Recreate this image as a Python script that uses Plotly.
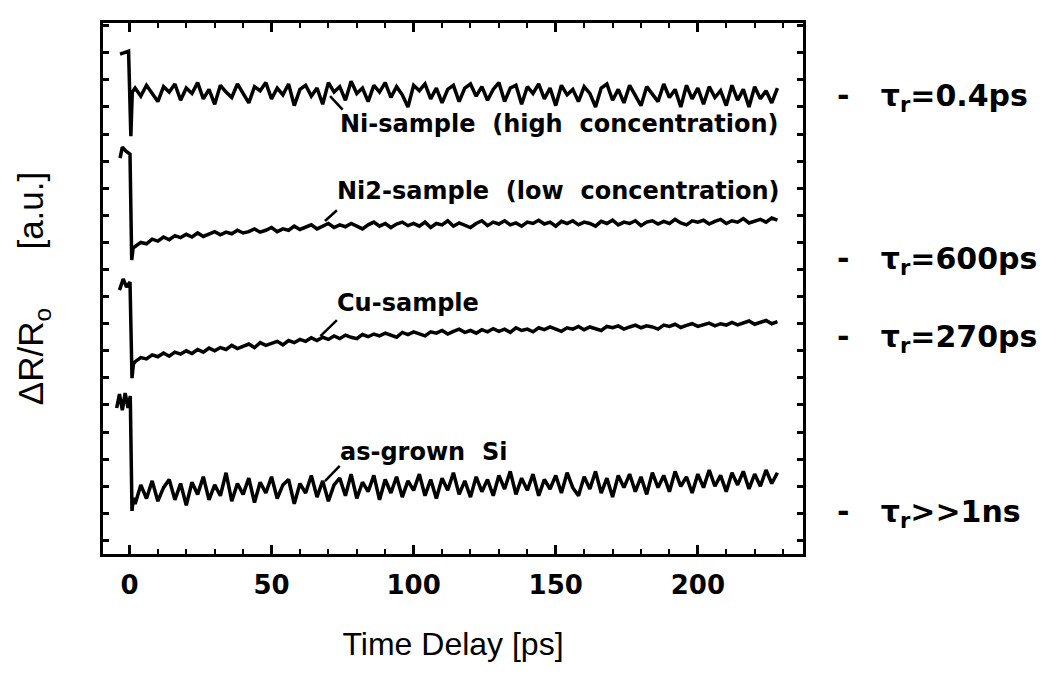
import plotly.graph_objects as go

# time axis, ps (sample grid after the drop at t=0)
time_ps = [2, 4, 6, 8, 10, 12, 14, 16, 18, 20, 22, 24, 26, 28, 30, 32, 34, 36, 38, 40,
           42, 44, 46, 48, 50, 52, 54, 56, 58, 60, 62, 64, 66, 68, 70, 72, 74, 76, 78, 80,
           82, 84, 86, 88, 90, 92, 94, 96, 98, 100, 102, 104, 106, 108, 110, 112, 114, 116, 118, 120,
           122, 124, 126, 128, 130, 132, 134, 136, 138, 140, 142, 144, 146, 148, 150, 152, 154, 156, 158, 160,
           162, 164, 166, 168, 170, 172, 174, 176, 178, 180, 182, 184, 186, 188, 190, 192, 194, 196, 198, 200,
           202, 204, 206, 208, 210, 212, 214, 216, 218, 220, 222, 224, 226, 228]

# spike region around t=0 for each sample
ni_pre_t = [-3.3, -0.3, 0.5, 1.0]
ni_pre = [18.45, 18.56, 15.42, 17.05]
ni2_pre_t = [-3.3, -2.5, -1.2, 0.2, 0.8, 1.3]
ni2_pre = [14.61, 15.02, 14.87, 14.76, 10.85, 11.29]
cu_pre_t = [-3.5, -2.2, -1.0, 0.2, 0.9, 1.4]
cu_pre = [9.74, 10.15, 9.85, 10.04, 6.49, 7.01]
si_pre_t = [-4.5, -3.5, -2.5, -1.5, -0.5, 0.3, 0.9, 1.4]
si_pre = [5.39, 5.90, 5.31, 5.94, 5.39, 5.83, 1.59, 2.07]

# Ni-sample (high concentration)
ni = [17.2, 16.9, 17.3, 17.0, 16.7, 17.25, 17.05, 17.35, 16.75, 17.2,
      17.0, 17.4, 16.8, 17.15, 16.6, 17.3, 17.05, 16.85, 17.35, 17.0,
      16.65, 17.25, 17.1, 17.4, 16.8, 17.2, 16.95, 17.35, 16.55, 17.15,
      17.3, 16.9, 17.2, 16.6, 17.4, 17.05, 17.25, 16.75, 17.45, 17.0,
      17.2, 16.7, 17.3, 17.05, 17.4, 16.85, 17.25, 16.95, 16.5, 17.3,
      17.1, 17.35, 16.8, 17.2, 16.65, 17.15, 17.3, 16.7, 17.2, 17.35,
      16.9, 17.25, 16.75, 17.15, 17.4, 16.7, 17.2, 17.3, 16.6, 17.25,
      17.0, 17.35, 16.8, 17.2, 16.55, 17.3, 16.95, 17.15, 16.7, 17.25,
      17.0, 16.5, 17.2, 17.35, 16.75, 17.15, 16.65, 17.3, 16.95, 16.55,
      17.25, 17.0, 16.7, 17.35, 16.85, 17.15, 16.5, 17.3, 16.8, 17.2,
      16.6, 17.25, 16.85, 17.1, 16.55, 17.3, 16.75, 17.15, 16.5, 17.25,
      16.8, 17.1, 16.65, 17.2]

# Ni2-sample (low concentration)
ni2 = [11.35, 11.5, 11.45, 11.62, 11.55, 11.7, 11.6, 11.75, 11.68, 11.8,
       11.7, 11.85, 11.72, 11.8, 11.9, 11.78, 11.88, 11.82, 11.95, 11.85,
       11.9, 12.0, 11.88, 11.95, 12.05, 11.9, 12.0, 11.95, 12.1, 11.98,
       12.05, 12.15, 12.0, 12.1, 12.2, 12.05, 12.15, 12.08, 12.2, 12.1,
       12.0, 12.15, 12.25, 12.1, 12.2, 12.05, 12.18, 12.25, 12.12, 12.2,
       12.1, 12.25, 12.05, 12.2, 12.15, 12.3, 12.1, 12.22, 12.15, 12.05,
       12.2, 12.3, 12.12, 12.25, 12.18, 12.3, 12.15, 12.22, 12.1, 12.25,
       12.2, 12.32, 12.18, 12.25, 12.1, 12.28, 12.2, 12.3, 12.15, 12.25,
       12.2, 12.1, 12.28, 12.2, 12.32, 12.15, 12.25, 12.2, 12.3, 12.12,
       12.25, 12.3, 12.18, 12.28, 12.2, 12.35, 12.22, 12.15, 12.3, 12.25,
       12.32, 12.18, 12.28, 12.35, 12.2, 12.3, 12.25, 12.38, 12.22, 12.3,
       12.35, 12.25, 12.4, 12.32]

# Cu-sample
cu = [7.1, 7.25, 7.2, 7.35, 7.28, 7.42, 7.3, 7.45, 7.38, 7.5,
      7.4, 7.55, 7.45, 7.6, 7.5, 7.62, 7.55, 7.7, 7.58, 7.68,
      7.75, 7.62, 7.8, 7.7, 7.78, 7.85, 7.72, 7.88, 7.8, 7.92,
      7.85, 7.98, 7.88, 8.0, 7.92, 8.05, 7.95, 8.08, 8.0, 7.95,
      8.1, 8.02, 8.12, 8.05, 8.15, 8.08, 8.0, 8.18, 8.1, 8.2,
      8.12, 8.05, 8.2, 8.15, 8.25, 8.12, 8.22, 8.3, 8.18, 8.25,
      8.15, 8.28, 8.2, 8.32, 8.22, 8.3, 8.18, 8.35, 8.25, 8.3,
      8.2, 8.35, 8.28, 8.38, 8.3, 8.22, 8.35, 8.3, 8.4, 8.28,
      8.38, 8.32, 8.25, 8.4, 8.35, 8.42, 8.3, 8.38, 8.45, 8.35,
      8.42, 8.38, 8.3, 8.45, 8.4, 8.48, 8.36, 8.44, 8.5, 8.4,
      8.46, 8.52, 8.42, 8.5, 8.45, 8.55, 8.46, 8.52, 8.6, 8.48,
      8.55, 8.62, 8.5, 8.58]

# as-grown Si
si = [1.85, 2.55, 2.05, 2.7, 1.95, 2.45, 2.75, 2.0, 2.6, 1.8,
      2.65, 2.2, 2.85, 2.0, 2.55, 2.15, 3.0, 1.95, 2.6, 2.2,
      2.8, 1.9, 2.65, 2.25, 2.85, 2.05, 2.55, 2.75, 1.85, 2.6,
      2.25, 2.9, 2.1, 2.7, 1.95, 2.55, 2.8, 2.15, 2.95, 2.05,
      2.65, 2.3, 2.9, 2.0, 2.75, 2.25, 2.85, 2.1, 2.7, 2.35,
      2.95, 2.15, 2.75, 2.05, 2.8, 2.35, 3.0, 2.2, 2.7, 2.1,
      2.85, 2.3, 2.75, 2.15, 2.9, 2.4, 3.05, 2.2, 2.8, 2.35,
      2.95, 2.15, 2.75, 2.4, 2.9, 2.25, 3.0, 2.45, 2.15, 2.85,
      2.4, 3.05, 2.25, 2.8, 2.1, 2.9, 2.45, 2.95, 2.3, 2.85,
      2.2, 3.0, 2.45, 2.9, 2.3, 3.05, 2.5, 2.85, 2.25, 2.95,
      2.45, 3.1, 2.5, 2.9, 2.3, 3.0, 2.55, 3.05, 2.4, 2.95,
      2.5, 3.1, 2.6, 3.0]

samples = [
    (ni_pre_t, ni_pre, ni),
    (ni2_pre_t, ni2_pre, ni2),
    (cu_pre_t, cu_pre, cu),
    (si_pre_t, si_pre, si),
]

# curve labels: text, x (ps), y, leader line (x0, y0, x1, y1)
curve_labels = [
    ('Ni-sample\u00a0 (high\u00a0 concentration)', 73.5, 15.87, (70.6, 16.9, 75.0, 16.4)),
    ('Ni2-sample\u00a0 (low\u00a0 concentration)', 72.5, 13.39, (68.8, 12.29, 73.0, 12.69)),
    ('Cu-sample', 72.5, 9.26, (67.2, 8.04, 73.0, 8.63)),
    ('as-grown\u00a0 Si', 73.5, 3.76, (68.8, 2.69, 74.0, 3.25)),
]

# recovery times written right of the frame
tau_labels = ['=0.4ps', '=600ps', '=270ps', '>>1ns']
tau_y = [16.86, 10.85, 7.97, 1.51]

fig = go.Figure()

for pre_t, pre_y, vals in samples:
    fig.add_trace(go.Scatter(
        x=pre_t + time_ps, y=pre_y + vals, mode='lines',
        line=dict(color='black', width=3.5), showlegend=False,
    ))

plot_font = 'DejaVu Sans'
for text, tx, ty, (x0, y0, x1, y1) in curve_labels:
    fig.add_annotation(x=tx, y=ty, text=text, showarrow=False,
                       xanchor='left', yanchor='middle',
                       font=dict(family=plot_font, size=24, color='black', weight='bold'))
    fig.add_shape(type='line', x0=x0, y0=y0, x1=x1, y1=y1,
                  line=dict(color='black', width=2.5))

for lab, ty in zip(tau_labels, tau_y):
    fig.add_annotation(x=1.045, xref='paper', y=ty, yref='y',
                       text='-\u00a0\u00a0 τ<sub>r</sub>' + lab,
                       showarrow=False, xanchor='left', yanchor='middle',
                       font=dict(family=plot_font, size=30, color='black', weight='bold'))

fig.update_layout(
    width=1062, height=677,
    font=dict(family=plot_font, size=24, color='black'),
    paper_bgcolor='white', plot_bgcolor='white',
    margin=dict(l=95, r=267, t=15, b=131),
    xaxis=dict(
        range=[-9.3, 237],
        tickvals=[0, 50, 100, 150, 200],
        ticks='inside', ticklen=9, tickwidth=2.5, tickcolor='black',
        minor=dict(dtick=10, tick0=0, ticks='inside', ticklen=5, tickwidth=2, tickcolor='black'),
        showline=True, linecolor='black', linewidth=3, mirror='allticks',
        showgrid=False, zeroline=False,
        tickfont=dict(family=plot_font, size=26, color='black', weight='bold'),
        ticklabelstandoff=6,
        title=dict(text='Time Delay [ps]', standoff=34,
                   font=dict(family='Liberation Sans', size=32, color='black')),
    ),
    yaxis=dict(
        range=[0, 19.6],
        tick0=0.5, dtick=1,
        ticks='inside', ticklen=6, tickwidth=2.5, tickcolor='black',
        showticklabels=False,
        showline=True, linecolor='black', linewidth=3, mirror='allticks',
        showgrid=False, zeroline=False,
        title=dict(text='ΔR/R<sub>o</sub>\u00a0\u00a0\u00a0\u00a0\u00a0 [a.u.]', standoff=46,
                   font=dict(family='Liberation Sans', size=35, color='black')),
    ),
)

fig.write_html('out.html')
